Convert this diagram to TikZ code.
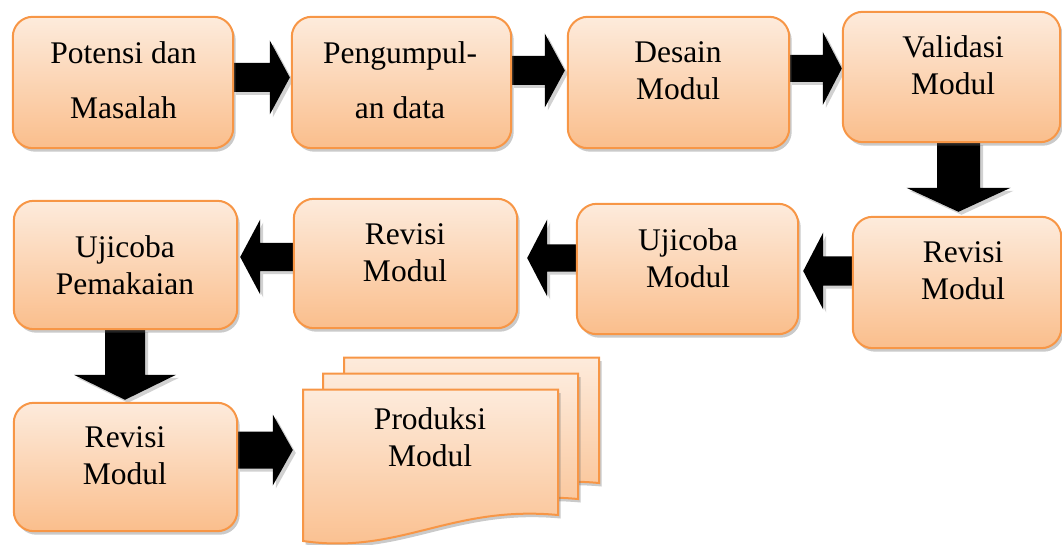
\documentclass[tikz,border=0pt]{standalone}
\usepackage{fontspec}
\setmainfont{Liberation Serif}
\usetikzlibrary{calc,shadows}
\definecolor{bord}{RGB}{247,150,70}
\definecolor{topc}{RGB}{253,235,220}
\definecolor{botc}{RGB}{250,190,140}
\tikzset{
  shd/.style={drop shadow={shadow xshift=2.5pt, shadow yshift=-3.5pt, opacity=0.35, fill=black!60}},
  box/.style={draw=bord, line width=2pt, rounded corners=20pt, top color=topc, bottom color=botc, inner sep=0pt, shd},
  doc/.style={draw=bord, line width=2pt, top color=topc, bottom color=botc, shd},
  blk/.style={fill=black, drop shadow={shadow xshift=3pt, shadow yshift=-3pt, opacity=0.3, fill=black!60}},
  lbl/.style={font=\fontsize{31.5}{37}\selectfont, align=center, inner sep=0pt, anchor=north},
  lblwide/.style={lbl, font=\fontsize{31.5}{55}\selectfont},
}
% right arrow: from, to, y centre, shaft half, head half, head length, gap
\newcommand\RArr[7]{%
  \fill[blk] let \p1=(#1.east |- 0,#3), \p2=($(#2.west |- 0,#3)+(-#7,0)$) in
  (\x1,\y1+#4pt) -- (\x2-#6pt,\y1+#4pt) -- (\x2-#6pt,\y1+#5pt) -- (\x2,\y1) --
  (\x2-#6pt,\y1-#5pt) -- (\x2-#6pt,\y1-#4pt) -- (\x1,\y1-#4pt) -- cycle;}
\newcommand\LArr[7]{%
  \fill[blk] let \p1=(#1.west |- 0,#3), \p2=($(#2.east |- 0,#3)+(#7,0)$) in
  (\x1,\y1+#4pt) -- (\x2+#6pt,\y1+#4pt) -- (\x2+#6pt,\y1+#5pt) -- (\x2,\y1) --
  (\x2+#6pt,\y1-#5pt) -- (\x2+#6pt,\y1-#4pt) -- (\x1,\y1-#4pt) -- cycle;}
\newcommand\DArr[7]{%
  \fill[blk] let \p1=(#1.south -| #3,0), \p2=($(#2.north -| #3,0)+(0,-#7)$) in
  (\x1-#4pt,\y1) -- (\x1-#4pt,\y2+#6pt) -- (\x1-#5pt,\y2+#6pt) -- (\x1,\y2) --
  (\x1+#5pt,\y2+#6pt) -- (\x1+#4pt,\y2+#6pt) -- (\x1+#4pt,\y1) -- cycle;}
\newcommand\DocShape[1]{%
  \path[doc, shift={#1}] (303,389.5) -- (558,389.5) -- (558,515)
    .. controls (450,505) and (400,555) .. (303,541) -- cycle;}
\begin{document}
\begin{tikzpicture}[x=1pt,y=-1pt]
\useasboundingbox (0,0) rectangle (1062,545);
% box frames (for anchors) - drawn after arrows
\path (123,82.5) node[minimum width=220pt, minimum height=131pt, inner sep=0pt] (A) {}
      (401.5,82.5) node[minimum width=219pt, minimum height=131pt, inner sep=0pt] (B) {}
      (678.5,82.5) node[minimum width=221pt, minimum height=131pt, inner sep=0pt] (C) {}
      (951.5,77) node[minimum width=217pt, minimum height=130pt, inner sep=0pt] (D) {}
      (957,282.5) node[minimum width=208pt, minimum height=131pt, inner sep=0pt] (E) {}
      (687.5,269) node[minimum width=221pt, minimum height=130pt, inner sep=0pt] (F) {}
      (405.5,263.5) node[minimum width=223pt, minimum height=129pt, inner sep=0pt] (G) {}
      (125.5,265) node[minimum width=223pt, minimum height=128pt, inner sep=0pt] (H) {}
      (125.5,467) node[minimum width=223pt, minimum height=128pt, inner sep=0pt] (I) {}
      (430.5,452) node[minimum width=255pt, minimum height=126pt, inner sep=0pt] (J) {};
% arrows
\RArr{A}{B}{77.5}{14.5}{37}{20}{2}
\RArr{B}{C}{70.5}{14.5}{37}{20}{3}
\RArr{C}{D}{68.5}{13.5}{36.5}{19}{1}
\DArr{D}{E}{958.5}{21.5}{52}{24}{5}
\LArr{E}{F}{271}{14.5}{38.5}{20}{5}
\LArr{F}{G}{258}{13.5}{38.5}{20}{10}
\LArr{G}{H}{257}{14}{37.5}{20}{3}
\DArr{H}{I}{125}{20}{51}{25}{3}
\RArr{I}{J}{450}{18.5}{35.5}{20}{10}
% boxes
\foreach \n in {A,B,C,D,E,F,G,H,I}{
  \path[box] (\n.south west) rectangle (\n.north east);
}
% documents
\DocShape{(41,-32)}
\DocShape{(20,-16)}
\DocShape{(0,0)}
% labels
\node[lblwide] (tA) at (123.5,41.5) {Potensi dan\\Masalah};
\node[lblwide] (tB) at (400,41.5) {Pengumpul-\\an data};
\node[lbl] (tC) at (678,41.5) {Desain\\Modul};
\node[lbl] (tD) at (953,35.5) {Validasi\\Modul};
\node[lbl] (tE) at (963,241.5) {Revisi\\Modul};
\node[lbl] (tF) at (688,228.5) {Ujicoba\\Modul};
\node[lbl] (tG) at (405,223.5) {Revisi\\Modul};
\node[lbl] (tH) at (125,235.5) {Ujicoba\\Pemakaian};
\node[lbl] (tI) at (125,426.5) {Revisi\\Modul};
\node[lbl] (tJ) at (430,407.5) {Produksi\\Modul};
\end{tikzpicture}
\end{document}
